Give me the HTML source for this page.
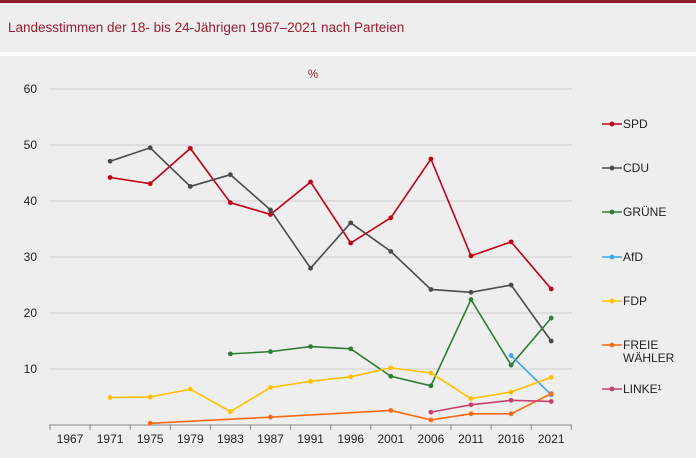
<!DOCTYPE html>
<html><head><meta charset="utf-8"><style>
body{margin:0;width:696px;height:458px;background:#eeeeee;overflow:hidden;font-family:"Liberation Sans",sans-serif}
svg{position:absolute;left:0;top:0}
</style></head><body>
<svg id="s" width="696" height="458" xmlns="http://www.w3.org/2000/svg" font-family="Liberation Sans, sans-serif">
<rect x="0" y="0" width="696" height="3" fill="#8b1a2b"/>
<rect x="0" y="52" width="696" height="4" fill="#ffffff"/>
<text x="8" y="32" font-size="13.5" fill="#9b1c2e">Landesstimmen der 18- bis 24-Jährigen 1967–2021 nach Parteien</text>
<text x="313" y="78" font-size="11.5" fill="#9b1c2e" text-anchor="middle">%</text>
<g id="g"></g>
</svg>
<script>
var g=document.getElementById('g'),h='';
function Y(v){return 425-5.6*v}
function X(i){return 70+40.1*i}
for(var v=10;v<=60;v+=10){h+='<line x1="49" x2="572" y1="'+Y(v)+'" y2="'+Y(v)+'" stroke="#cfcfcf" stroke-width="1"/>';h+='<text x="37" y="'+(Y(v)+4)+'" font-size="12" fill="#222" text-anchor="end">'+v+'</text>';}
h+='<line x1="49" x2="572" y1="425" y2="425" stroke="#888"/>';
var yrs=["1967","1971","1975","1979","1983","1987","1991","1996","2001","2006","2011","2016","2021"];
for(var i=0;i<=13;i++){var x=50+40.1*i;h+='<line x1="'+x+'" x2="'+x+'" y1="425" y2="430" stroke="#888"/>';}
for(i=0;i<13;i++)h+='<text x="'+X(i)+'" y="443" font-size="12" fill="#222" text-anchor="middle">'+yrs[i]+'</text>';
var S=[
["#c00018",[[1,44.2],[2,43.1],[3,49.4],[4,39.7],[5,37.6],[6,43.4],[7,32.5],[8,37.0],[9,47.5],[10,30.2],[11,32.7],[12,24.3]]],
["#4a4a4a",[[1,47.1],[2,49.5],[3,42.6],[4,44.7],[5,38.4],[6,28.0],[7,36.1],[8,31.0],[9,24.2],[10,23.7],[11,25.0],[12,15.0]]],
["#2e7d32",[[4,12.7],[5,13.1],[6,14.0],[7,13.6],[8,8.7],[9,7.0],[10,22.4],[11,10.7],[12,19.1]]],
["#3aa6e8",[[11,12.4],[12,5.4]]],
["#ffc000",[[1,4.9],[2,5.0],[3,6.4],[4,2.4],[5,6.7],[6,7.8],[7,8.6],[8,10.2],[9,9.3],[10,4.7],[11,5.9],[12,8.5]]],
["#ff6a13",[[2,0.3],[5,1.4],[8,2.6],[9,0.9],[10,2.0],[11,2.0],[12,5.6]]],
["#c8406e",[[9,2.3],[10,3.6],[11,4.4],[12,4.2]]]];
S.forEach(function(s){var p=s[1].map(function(d){return X(d[0])+','+Y(d[1])}).join(' ');
h+='<polyline points="'+p+'" fill="none" stroke="'+s[0]+'" stroke-width="1.6"/>';
s[1].forEach(function(d){h+='<circle cx="'+X(d[0])+'" cy="'+Y(d[1])+'" r="2.4" fill="'+s[0]+'"/>'});});
var L=[["SPD",124],["CDU",168],["GRÜNE",212],["AfD",257],["FDP",301],["FREIE",345],["LINKE¹",389]];
L.forEach(function(l,i){h+='<line x1="602" x2="622" y1="'+l[1]+'" y2="'+l[1]+'" stroke="'+S[i][0]+'" stroke-width="1.6"/><circle cx="612" cy="'+l[1]+'" r="2.4" fill="'+S[i][0]+'"/>';
h+='<text x="623" y="'+(l[1]+4)+'" font-size="12" fill="#222">'+l[0]+'</text>';});
h+='<text x="623" y="362" font-size="12" fill="#222">WÄHLER</text>';
g.innerHTML=h;
</script>
</body></html>
